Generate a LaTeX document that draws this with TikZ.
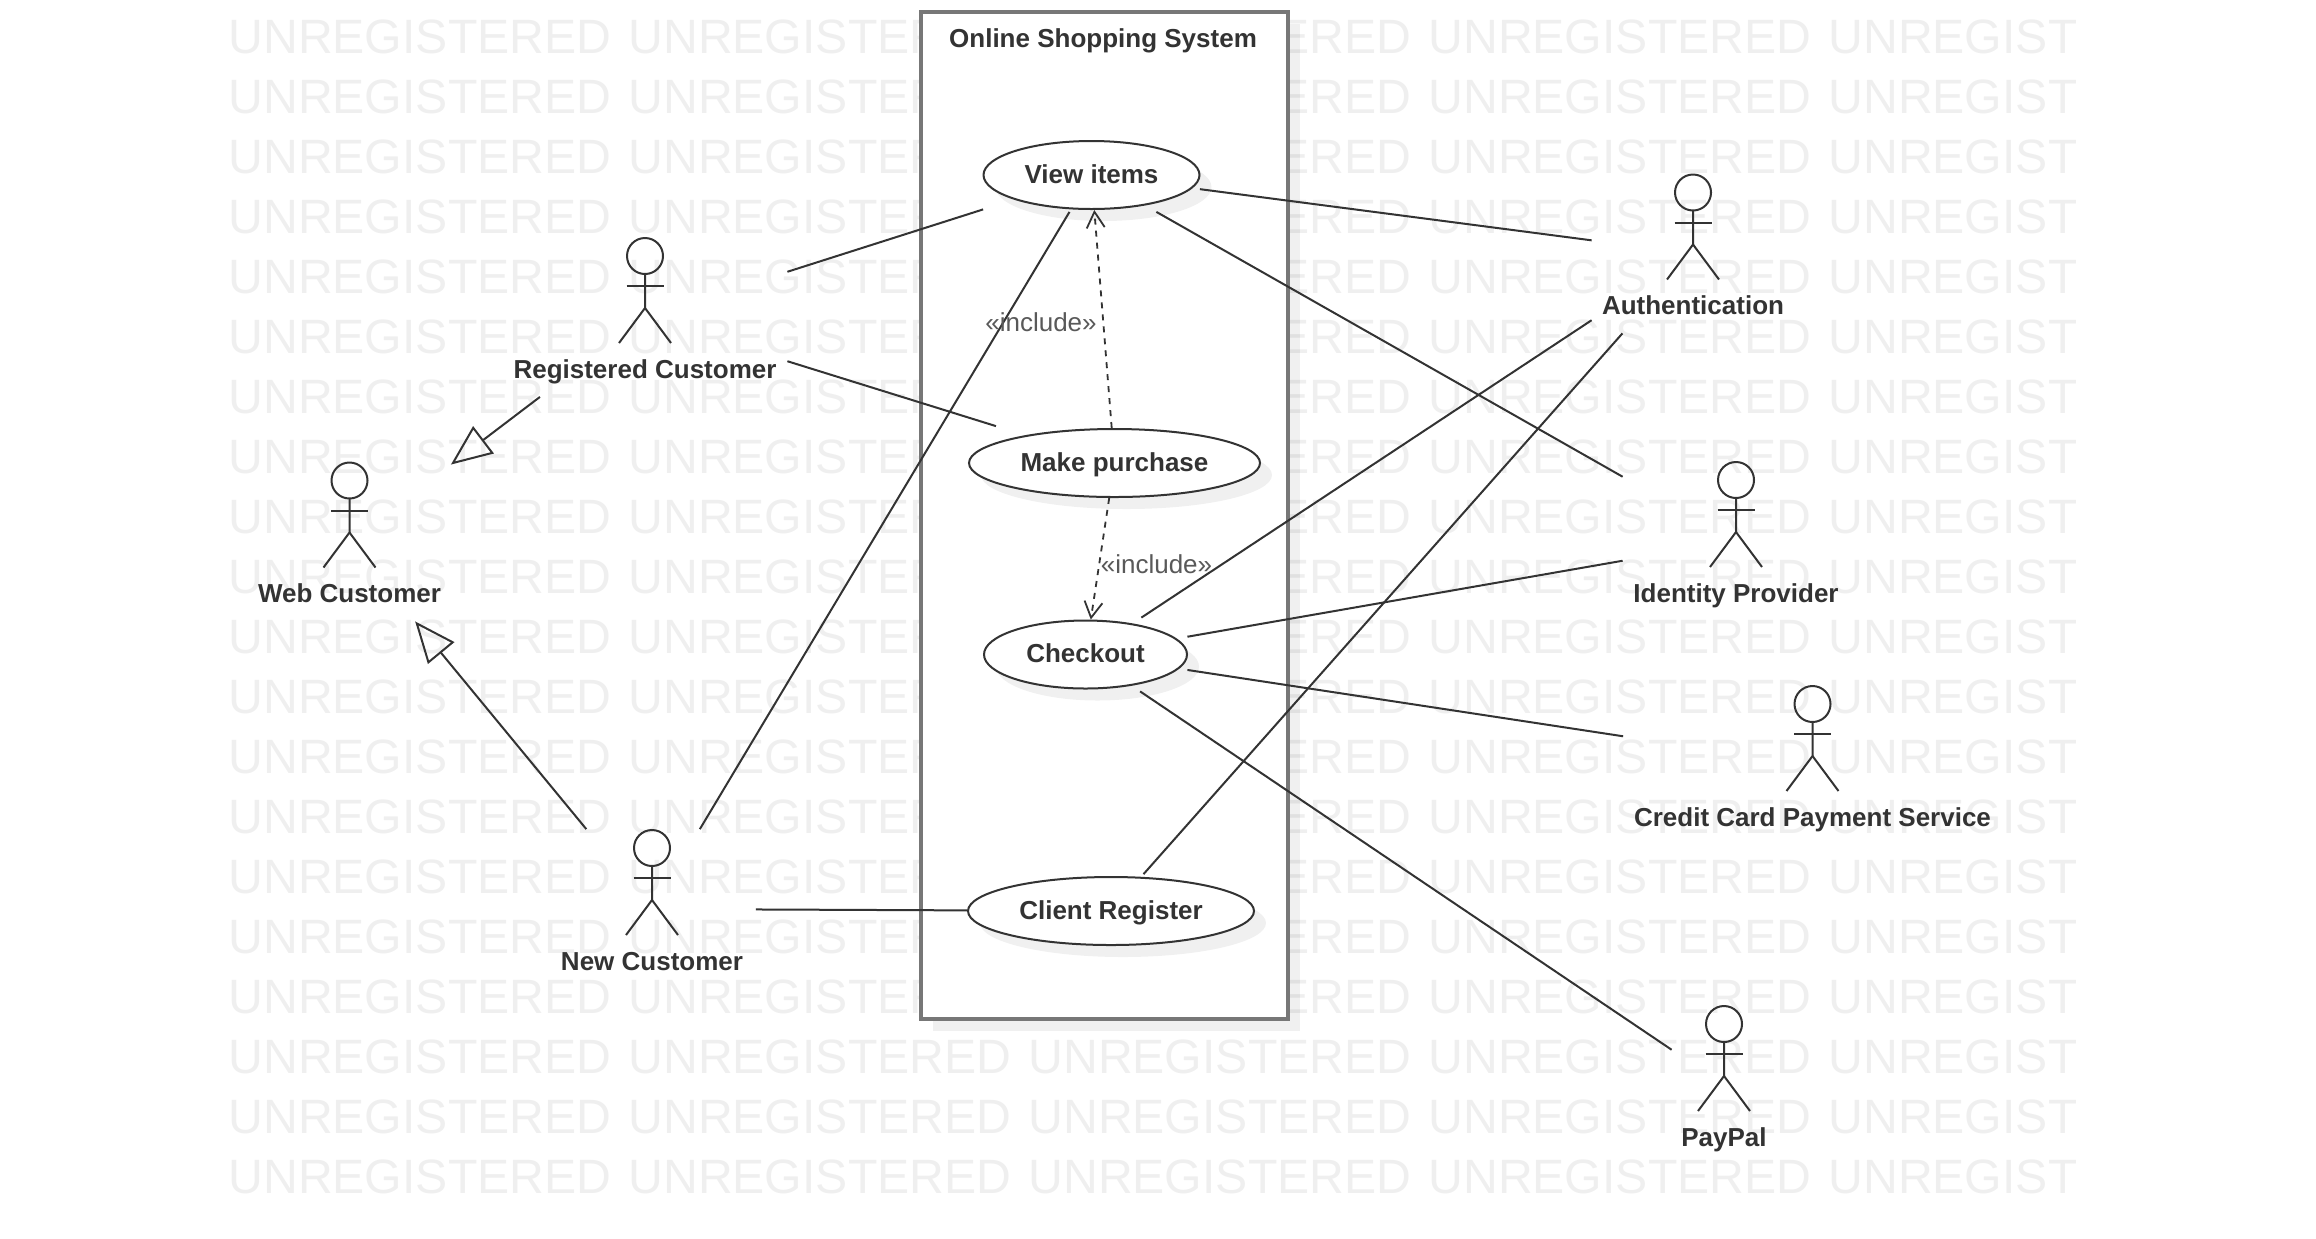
\documentclass[tikz,border=0pt]{standalone}
\usepackage{fontspec}
\setmainfont{Liberation Sans}
\usetikzlibrary{shapes.geometric}
\usetikzlibrary{shadows}
\usetikzlibrary{arrows.meta}
\definecolor{markgray}{HTML}{EFEFEF}
\definecolor{framegray}{HTML}{777777}
\definecolor{linegray}{HTML}{333333}
\tikzset{softshadow/.style={drop shadow={shadow xshift=6pt,shadow yshift=-6pt,fill=black,opacity=0.06}}}
\tikzset{usecase/.style={ellipse,draw=linegray,line width=1pt,fill=white,softshadow,inner sep=0pt,minimum width=#1pt,minimum height=34pt}}
\tikzset{usebox/.style={rectangle,inner sep=0pt,minimum width=#1pt,minimum height=36.5pt,text height=8pt,text depth=0pt,font=\fontsize{13}{15}\selectfont\bfseries,text=black!80}}
\tikzset{actorbox/.style={rectangle,inner sep=0pt,minimum width=#1pt,minimum height=79.5pt}}
\tikzset{actorline/.style={draw=linegray,line width=1pt}}
\tikzset{actorname/.style={inner sep=0pt,text height=8pt,text depth=0pt,font=\fontsize{13}{15}\selectfont\bfseries,text=black!80}}
\tikzset{assoc/.style={draw=linegray,line width=1pt}}
\tikzset{inherit/.style={draw=linegray,line width=1pt,-{Triangle[open,length=20.5pt,width=17pt]}}}
\tikzset{includes/.style={draw=linegray,line width=0.9pt,dashed,-{Straight Barb[length=8pt,width=9pt]}}}
\tikzset{includetext/.style={inner sep=0pt,font=\fontsize{13}{15}\selectfont,text=black!65}}

\begin{document}
\begin{tikzpicture}[x=0.5pt,y=-0.5pt]
      \useasboundingbox (0,0) rectangle (2316,1238);

      % watermark rows
      \begin{scope}
        \clip (0,0) rectangle (2075,1238);
        \foreach \row in {0,...,19} {
          \foreach \col in {0,...,4} {
            \node[anchor=west,inner sep=0pt,text=markgray,font=\fontsize{24.1}{26}\selectfont] at (228+400*\col,37+60*\row) {UNREGISTERED};
          }
        }
      \end{scope}

      % system boundary
      \node[rectangle,draw=framegray,line width=1.6pt,fill=white,softshadow,inner sep=0pt,minimum width=183.5pt,minimum height=503.5pt] (system) at (1104.5,515.5) {};
      \node[actorname] (systemname) at (1103,39) {Online Shopping System};

      % use cases: name / x / y / width / label
      \foreach \name/\midx/\midy/\boxw/\txt in {
          view/1091.5/175/108/View items,
          purchase/1114.5/463/145.5/Make purchase,
          checkout/1085.5/654.5/101.5/Checkout,
          register/1111/911/143/Client Register} {
        \node[usecase=\boxw] (\name-oval) at (\midx,\midy) {};
        \node[usebox=\boxw] (\name) at (\midx,\midy) {\txt};
      }

      % actors: name / head x / head y / box width / label
      \foreach \name/\headx/\heady/\boxw/\txt in {
          registered/645/256/142/Registered Customer,
          web/349.5/480.5/101/Web Customer,
          new/652/848/103.5/New Customer,
          auth/1693/192.5/101/Authentication,
          identity/1736/480/113/Identity Provider,
          credit/1812.5/704/189/Credit Card Payment Service,
          paypal/1724/1024/52/PayPal} {
        \node[actorbox=\boxw] (\name) at (\headx,\heady+61) {};
        \draw[actorline] (\headx,\heady) circle [radius=18];
        \draw[actorline] (\headx,\heady+18) -- ++(0,34) -- ++(-26,35);
        \draw[actorline] (\headx,\heady+52) -- ++(26,35);
        \draw[actorline] (\headx-18.5,\heady+30) -- ++(37,0);
        \node[actorname] (\name-label) at (\headx,\heady+114) {\txt};
      }

      % associations
      \draw[assoc] (registered) -- (view);
      \draw[assoc] (registered) -- (purchase);
      \draw[assoc] (new) -- (view);
      \draw[assoc] (new) -- (register);
      \draw[assoc] (view) -- (auth);
      \draw[assoc] (view) -- (identity);
      \draw[assoc] (checkout) -- (auth);
      \draw[assoc] (checkout) -- (identity);
      \draw[assoc] (checkout) -- (credit);
      \draw[assoc] (checkout) -- (paypal);
      \draw[assoc] (register) -- (auth);

      % generalizations
      \draw[inherit] (registered) -- (web);
      \draw[inherit] (new) -- (web);

      % includes
      \draw[includes] (purchase-oval) -- (view-oval);
      \draw[includes] (purchase-oval) -- (checkout-oval);
      \node[includetext] (includeview) at (1041,322) {«include»};
      \node[includetext] (includecheckout) at (1156.5,564) {«include»};
\end{tikzpicture}
\end{document}
